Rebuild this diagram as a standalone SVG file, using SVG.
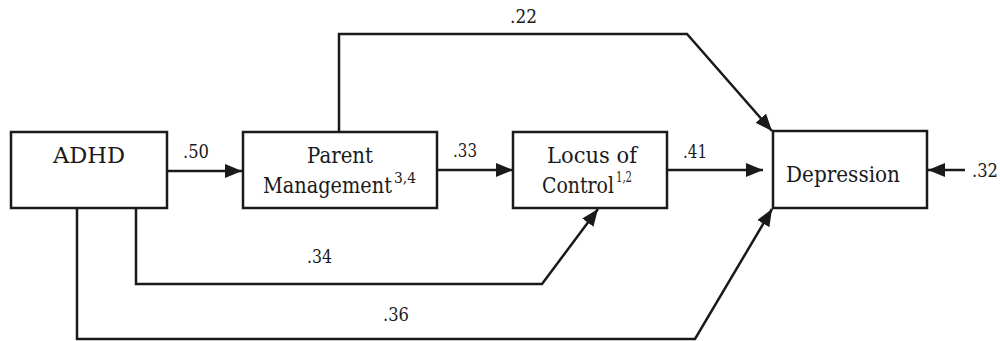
<svg xmlns="http://www.w3.org/2000/svg" width="1000" height="341" viewBox="0 0 1000 341">
<style>
.box{fill:#fff;stroke:#1a1a1a;stroke-width:2.5}
.edge{fill:none;stroke:#1a1a1a;stroke-width:2.5;marker-end:url(#ah)}
text{font-family:'DejaVu Serif',serif;fill:#1a1a1a;text-anchor:start}
.nt{font-size:22px}
.sup{font-size:14px}
.lb{font-size:18px}
</style>
<defs>
<marker id="ah" markerUnits="userSpaceOnUse" markerWidth="18" markerHeight="14" refX="17" refY="7" orient="auto">
<path d="M0,0 L17,7 L0,14 Z" fill="#1a1a1a"/>
</marker>
</defs>
<rect width="1000" height="341" fill="#fff"/>
<g id="connectors">
<path class="edge" d="M167 171 H242"/>
<path class="edge" d="M437 170 H513"/>
<path class="edge" d="M667 170 H763"/>
<path class="edge" d="M965 170 H928"/>
<path class="edge" d="M339 132 V34 H687 L772 131"/>
<path class="edge" d="M136 208 V284 H542 L598 209"/>
<path class="edge" d="M77 208 V339 H695 L772 209"/>
<text class="lb" x="183" y="158" textLength="26" lengthAdjust="spacingAndGlyphs">.50</text>
<text class="lb" x="453" y="157" textLength="24" lengthAdjust="spacingAndGlyphs">.33</text>
<text class="lb" x="683" y="158" textLength="24" lengthAdjust="spacingAndGlyphs">.41</text>
<text class="lb" x="972" y="177" textLength="26" lengthAdjust="spacingAndGlyphs">.32</text>
<text class="lb" x="510" y="23" textLength="27" lengthAdjust="spacingAndGlyphs">.22</text>
<text class="lb" x="307" y="263" textLength="25" lengthAdjust="spacingAndGlyphs">.34</text>
<text class="lb" x="383" y="321" textLength="26" lengthAdjust="spacingAndGlyphs">.36</text>
</g>
<g id="adhd">
<rect class="box" x="11" y="132" width="156" height="76"/>
<text class="nt" x="53" y="163" textLength="72" lengthAdjust="spacingAndGlyphs">ADHD</text>
</g>
<g id="parent">
<rect class="box" x="243" y="132" width="194" height="76"/>
<text class="nt" x="307" y="163" textLength="66" lengthAdjust="spacingAndGlyphs">Parent</text>
<text class="nt" x="263" y="193"><tspan textLength="129" lengthAdjust="spacingAndGlyphs">Management</tspan><tspan class="sup" x="394" y="183" textLength="22" lengthAdjust="spacingAndGlyphs">3,4</tspan></text>
</g>
<g id="locus">
<rect class="box" x="513" y="132" width="154" height="76"/>
<text class="nt" x="547" y="163" textLength="90" lengthAdjust="spacingAndGlyphs">Locus of</text>
<text class="nt" x="542" y="193"><tspan textLength="72" lengthAdjust="spacingAndGlyphs">Control</tspan><tspan class="sup" x="616" y="182" textLength="16" lengthAdjust="spacingAndGlyphs">1,2</tspan></text>
</g>
<g id="depression">
<rect class="box" x="773" y="131" width="154" height="77"/>
<text class="nt" x="786" y="182" textLength="114" lengthAdjust="spacingAndGlyphs">Depression</text>
</g>
</svg>
